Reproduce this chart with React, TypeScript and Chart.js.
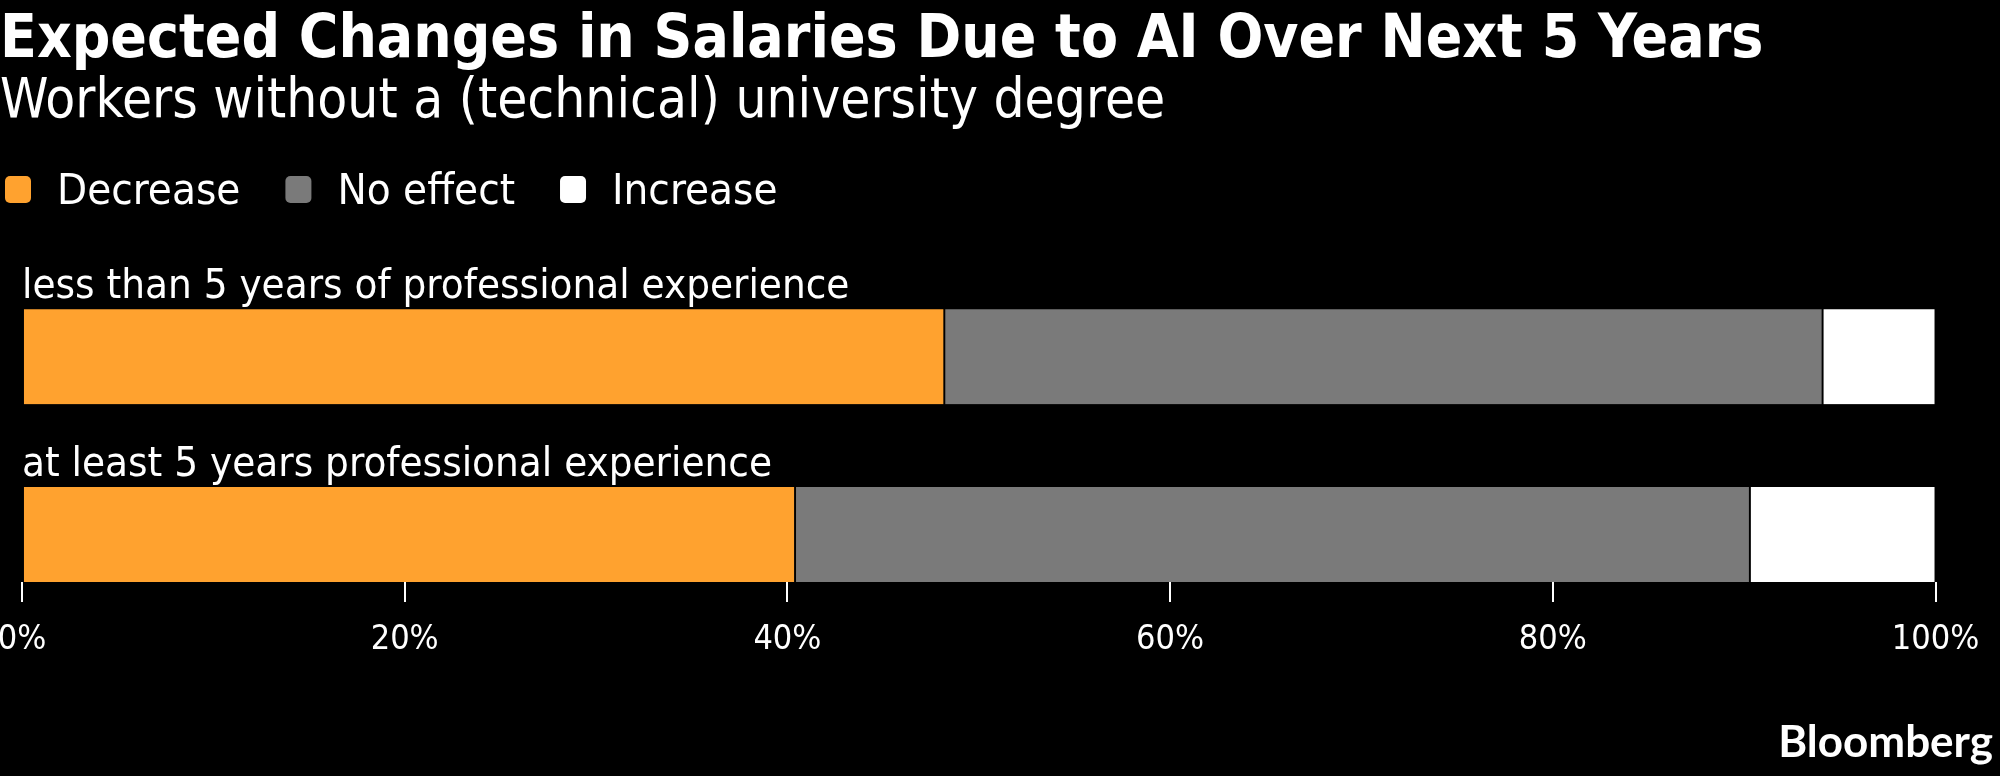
import React, { useEffect, useRef } from "react";
import { Chart, registerables } from "chart.js";

Chart.register(...registerables);

const TITLE = "Expected Changes in Salaries Due to AI Over Next 5 Years";
const SUBTITLE = "Workers without a (technical) university degree";
const SOURCE = "Bloomberg";

const categories = [
  "less than 5 years of professional experience",
  "at least 5 years professional experience",
];
const seriesNames = ["Decrease", "No effect", "Increase"];
const seriesColors = ["#ffa22f", "#7a7a7a", "#ffffff"];
const decreaseValues = [48.2, 40.4];
const noEffectValues = [45.9, 49.9];
const increaseValues = [5.9, 9.7];
const tickValues = [0, 20, 40, 60, 80, 100];

const FONT = "'DejaVu Sans Condensed', 'DejaVu Sans'";

function setFont(ctx: any, f: string) {
  ctx.font = f;
  try {
    ctx.fontStretch = "condensed";
  } catch (e) {}
}

const textPlugin = {
  id: "textPlugin",
  afterDraw(chart: any) {
    const ctx = chart.ctx as any;
    ctx.save();
    ctx.textBaseline = "alphabetic";
    ctx.fillStyle = "#ffffff";
    ctx.textAlign = "left";
    setFont(ctx, "bold 60px " + FONT);
    ctx.fillText(TITLE, 0, 57);
    setFont(ctx, "54.5px " + FONT);
    ctx.fillText(SUBTITLE, 0, 117);

    // legend
    setFont(ctx, "43.5px " + FONT);
    let x = 5;
    chart.data.datasets.forEach((ds: any) => {
      ctx.fillStyle = ds.backgroundColor;
      ctx.beginPath();
      ctx.roundRect(x, 176, 26, 27, 5);
      ctx.fill();
      x += 26 + 26;
      ctx.fillStyle = "#ffffff";
      ctx.fillText(ds.label, x, 204);
      x += ctx.measureText(ds.label).width + 45;
    });

    // category labels above bars
    const meta = chart.getDatasetMeta(0);
    setFont(ctx, "41.7px " + FONT);
    ctx.fillStyle = "#ffffff";
    meta.data.forEach((bar: any, i: number) => {
      const p = bar.getProps(["y", "height"], true);
      const top = p.y - p.height / 2;
      ctx.fillText(categories[i], chart.chartArea.left, top - 11);
    });

    // source
    ctx.textAlign = "right";
    ctx.font = "bold 44px Lato";
    ctx.fillText(SOURCE, 1993, 757);
    ctx.restore();
  },
};

export default function App() {
  const ref = useRef<HTMLCanvasElement | null>(null);
  useEffect(() => {
    if (!ref.current) return;
    const values = [decreaseValues, noEffectValues, increaseValues];
    const chart = new Chart(ref.current, {
      type: "bar",
      data: {
        labels: categories.map((_, i) => i),
        datasets: seriesNames.map((name, k) => ({
          label: name,
          data: values[k],
          backgroundColor: seriesColors[k],
          borderColor: "#000000",
          borderWidth: { left: 1.3, right: 1.3, top: 0, bottom: 0 },
          borderSkipped: false,
          barThickness: 95,
        })),
      },
      options: {
        indexAxis: "y",
        animation: false,
        responsive: true,
        maintainAspectRatio: false,
        devicePixelRatio: 1,
        layout: { padding: { left: 22, right: 64.5, top: 250, bottom: 0 } },
        plugins: {
          legend: { display: false },
          tooltip: { enabled: false },
          title: { display: false },
        },
        scales: {
          x: {
            type: "linear",
            stacked: true,
            min: 0,
            max: 100,
            afterBuildTicks: (scale: any) => {
              scale.ticks = tickValues.map((v) => ({ value: v }));
            },
            afterFit: (scale: any) => {
              scale.paddingLeft = 0;
              scale.paddingRight = 0;
              scale.height = 194;
            },
            grid: {
              drawOnChartArea: false,
              drawTicks: true,
              tickLength: 20,
              color: "#ffffff",
              lineWidth: 2,
            },
            border: { display: false },
            ticks: {
              color: "#ffffff",
              padding: 18,
              maxRotation: 0,
              autoSkip: false,
              font: { family: FONT, size: 34 },
              callback: (v: any) => v + "%",
            },
          },
          y: {
            type: "linear",
            stacked: true,
            reverse: true,
            offset: false,
            min: -0.6,
            max: 1.267,
            display: false,
          },
        },
      },
      plugins: [textPlugin],
    } as any);
    return () => chart.destroy();
  }, []);
  return (
    <div
      style={{
        position: "absolute",
        left: 0,
        top: 0,
        width: 2000,
        height: 776,
        background: "#000000",
      }}
    >
      <canvas ref={ref} />
    </div>
  );
}
